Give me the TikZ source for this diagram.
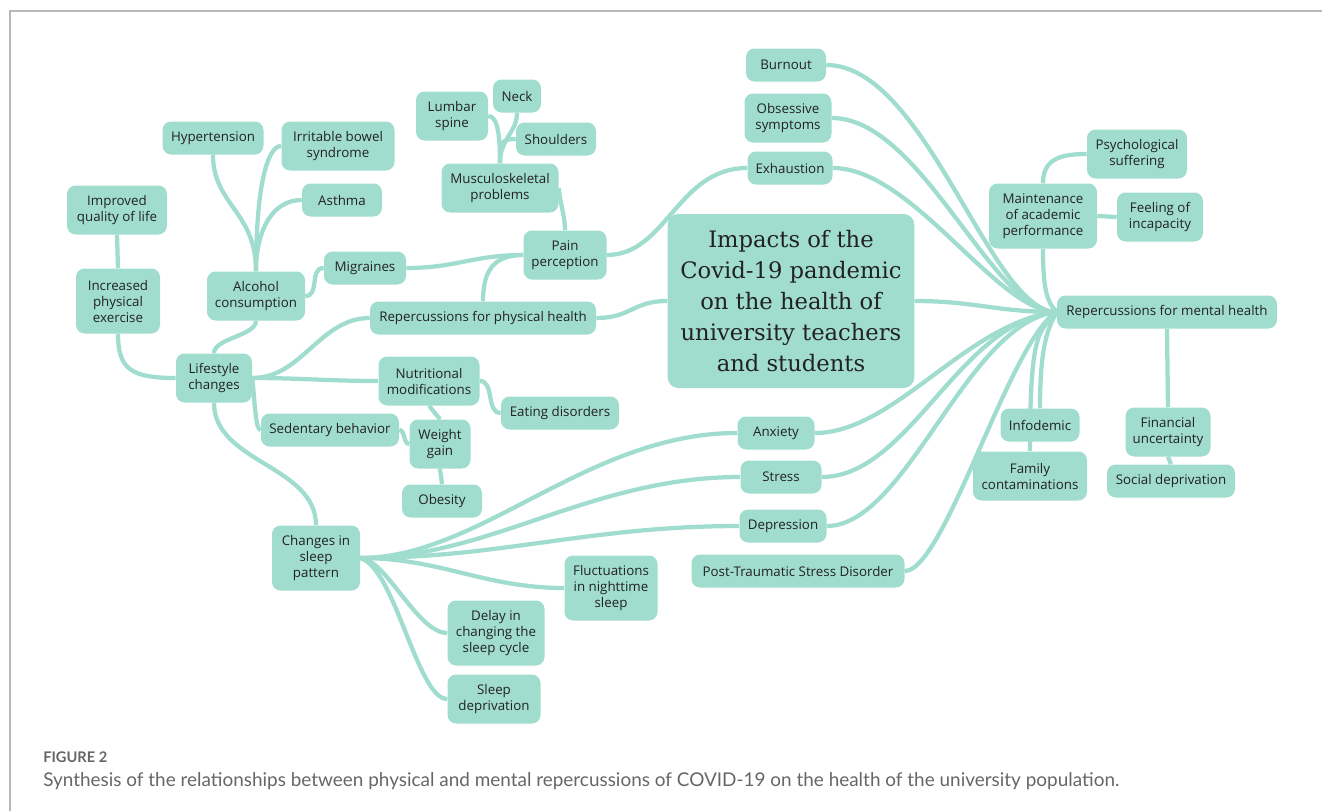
\documentclass[tikz,border=0pt]{standalone}
\usepackage{fontspec}
\setmainfont{Open Sans}
\newfontfamily\titlefont{DejaVu Serif}
\newfontfamily\capfont{Lato}
\usetikzlibrary{backgrounds}
\definecolor{mint}{HTML}{A0DDCF}
\definecolor{ink}{HTML}{222222}
\definecolor{framegray}{HTML}{B8B8B8}
\definecolor{capgray}{HTML}{666666}

\begin{document}
\begin{tikzpicture}[x=0.75pt,y=-0.75pt,line cap=round]
    \tikzstyle{topic}=[rounded corners=6.5pt,fill=mint,text=ink,align=center,inner xsep=5pt,inner ysep=3pt,minimum height=24.75pt,font=\fontsize{10}{12}\selectfont]
    \tikzstyle{two}=[topic,minimum height=36.75pt]
    \tikzstyle{three}=[topic,minimum height=48.75pt]
    \tikzstyle{core}=[topic,rounded corners=8pt,minimum width=185pt,minimum height=130.5pt,font=\titlefont\fontsize{17}{23.3}\selectfont]
    \tikzstyle{branch}=[draw=mint,line width=3.2pt]
    \useasboundingbox (0,0) rectangle (1322,811);

    % frame
    \draw[framegray,line width=1.1pt] (10,811) -- (10,11) -- (1322,11);

    \node[core] (core) at (791,301) {Impacts of the\\Covid-19 pandemic\\on the health of\\university teachers\\and students};

    % physical side
    \node[topic,minimum width=169.5pt] (physical) at (483,318) {Repercussions for physical health};
    \node[two,minimum width=62.25pt] (pain) at (565,255) {Pain\\perception};
    \node[two,minimum width=87.75pt] (musc) at (500,188) {Musculoskeletal\\problems};
    \node[two,minimum width=54pt] (lumbar) at (452,116) {Lumbar\\spine};
    \node[topic,minimum width=36pt] (neck) at (517,96) {Neck};
    \node[topic,minimum width=60pt] (shoulders) at (556,139) {Shoulders};
    \node[topic,minimum width=61.5pt] (migraines) at (365,268) {Migraines};
    \node[two,minimum width=73.5pt] (alcohol) at (256,296) {Alcohol\\consumption};
    \node[topic,minimum width=75.75pt] (hyper) at (213,138) {Hypertension};
    \node[two,minimum width=84.75pt] (ibs) at (338,146) {Irritable bowel\\syndrome};
    \node[topic,minimum width=60pt] (asthma) at (342,200) {Asthma};
    \node[two,minimum width=57pt] (lifestyle) at (214,378) {Lifestyle\\changes};
    \node[three,minimum width=63pt] (exercise) at (118,301) {Increased\\physical\\exercise};
    \node[two,minimum width=75pt] (improved) at (117,210) {Improved\\quality of life};
    \node[two,minimum width=75.75pt] (nutrition) at (429,381) {Nutritional\\modifications};
    \node[topic,minimum width=88.5pt] (eating) at (560,413) {Eating disorders};
    \node[topic,minimum width=103.5pt] (sedentary) at (330,430) {Sedentary behavior};
    \node[two,minimum width=45.75pt] (weight) at (440,444) {Weight\\gain};
    \node[topic,minimum width=60pt] (obesity) at (442,501) {Obesity};
    \node[three,minimum width=66pt] (sleep) at (316,558) {Changes in\\sleep\\pattern};
    \node[three,minimum width=69.75pt] (fluct) at (611,588) {Fluctuations\\in nighttime\\sleep};
    \node[three,minimum width=72.75pt] (delay) at (496,633) {Delay in\\changing the\\sleep cycle};
    \node[two,minimum width=69.75pt] (deprivation) at (494,699) {Sleep\\deprivation};

    % mental side
    \node[topic,minimum width=165pt] (mental) at (1167,312) {Repercussions for mental health};
    \node[topic,minimum width=60pt] (burnout) at (786,65) {Burnout};
    \node[two,minimum width=65.25pt] (obsessive) at (788,118) {Obsessive\\symptoms};
    \node[topic,minimum width=63.75pt] (exhaustion) at (790,168) {Exhaustion};
    \node[three,minimum width=81pt] (maint) at (1043,216) {Maintenance\\of academic\\performance};
    \node[two,minimum width=75pt] (psych) at (1137,154) {Psychological\\suffering};
    \node[two,minimum width=64.5pt] (feeling) at (1160,217) {Feeling of\\incapacity};
    \node[topic,minimum width=57.75pt] (anxiety) at (776,433) {Anxiety};
    \node[topic,minimum width=60.75pt] (stress) at (781,477) {Stress};
    \node[topic,minimum width=65.25pt] (depression) at (783,526) {Depression};
    \node[topic,minimum width=159.75pt] (ptsd) at (798,571) {Post-Traumatic Stress Disorder};
    \node[topic,minimum width=59.25pt] (info) at (1040,425) {Infodemic};
    \node[two,minimum width=85.5pt] (family) at (1030,476) {Family\\contaminations};
    \node[two,minimum width=63.75pt] (finance) at (1168,432) {Financial\\uncertainty};
    \node[topic,minimum width=96pt] (social) at (1171,481) {Social deprivation};

    \begin{scope}[on background layer]
        \draw[branch] (core.west) .. controls +(-35,0) and +(35,0) .. (physical.east);
        \draw[branch] (core.east) .. controls +(60,0) and +(-60,0) .. (mental.west);
        \draw[branch] (pain.east) .. controls +(60,0) and +(-70,0) .. (exhaustion.west);

        % branches into mental health
        \foreach \n/\a/\b/\c in {burnout/100/-67/0, obsessive/90/-65/0, exhaustion/80/-60/0,
                                 anxiety/80/-90/10, stress/88/-97/8, depression/80/-90/10, ptsd/40/-47/28}
            \draw[branch] (\n.east) .. controls +(\a,0) and +(\b,\c) .. (mental.west);
        \draw[branch] (mental.west) .. controls +(-12,20) and +(0,-50) .. (info.north);
        \draw[branch] (mental.west) .. controls +(-18,20) and +(0,-120) .. (family.north);
        \draw[branch] (maint.south) .. controls +(0,40) and +(-10,-10) .. (mental.west);
        \draw[branch] (maint.north) .. controls +(0,-25) and +(-25,0) .. (psych.west);
        \draw[branch] (maint.east) -- (feeling.west);
        \draw[branch] (mental.south) -- (finance.north);
        \draw[branch] (finance.south) -- (social.north);

        % physical health branches
        \draw[branch] (physical.west) .. controls +(-50,0) and +(50,0) .. (lifestyle.east);
        \draw[branch] (physical.north) .. controls +(0,-30) and +(-30,0) .. (pain.west);
        \draw[branch] (migraines.east) .. controls +(50,0) and +(-50,0) .. (pain.west);
        \draw[branch] (musc.east) .. controls +(2,20) and +(0,-15) .. (pain.north);
        \draw[branch] (musc.north) .. controls +(0,-25) and +(10,0) .. (lumbar.east);
        \draw[branch] (musc.north) .. controls +(0,-25) and +(0,20) .. (neck.south);
        \draw[branch] (musc.north) .. controls +(0,-20) and +(-15,0) .. (shoulders.west);
        \draw[branch] (alcohol.north) .. controls +(0,-60) and +(0,50) .. (hyper.south);
        \draw[branch] (alcohol.north) .. controls +(0,-80) and +(-15,0) .. (ibs.west);
        \draw[branch] (alcohol.north) .. controls +(0,-40) and +(-30,0) .. (asthma.west);
        \draw[branch] (alcohol.east) .. controls +(15,0) and +(-15,0) .. (migraines.west);
        \draw[branch] (alcohol.south) .. controls +(0,15) and +(0,-15) .. (lifestyle.north);
        \draw[branch] (lifestyle.west) .. controls +(-45,0) and +(0,35) .. (exercise.south);
        \draw[branch] (exercise.north) -- (improved.south);
        \draw[branch] (lifestyle.east) .. controls +(50,0) and +(-50,0) .. (nutrition.west);
        \draw[branch] (lifestyle.east) .. controls +(3,30) and +(-5,0) .. (sedentary.west);
        \draw[branch] (lifestyle.south) .. controls +(0,60) and +(0,-60) .. (sleep.north);
        \draw[branch] (nutrition.east) .. controls +(15,0) and +(-15,0) .. (eating.west);
        \draw[branch] (nutrition.south) -- (weight.north);
        \draw[branch] (sedentary.east) .. controls +(6,0) and +(-6,0) .. (weight.west);
        \draw[branch] (weight.south) -- (obesity.north);

        % sleep branches
        \draw[branch] (sleep.east) .. controls +(120,0) and +(-150,0) .. (anxiety.west);
        \draw[branch] (sleep.east) .. controls +(130,0) and +(-150,0) .. (stress.west);
        \draw[branch] (sleep.east) .. controls +(140,0) and +(-150,0) .. (depression.west);
        \draw[branch] (sleep.east) .. controls +(80,0) and +(-80,0) .. (fluct.west);
        \draw[branch] (sleep.east) .. controls +(25,0) and +(-30,0) .. (delay.west);
        \draw[branch] (sleep.east) .. controls +(35,10) and +(-30,0) .. (deprivation.west);
    \end{scope}

    % caption
    \node[anchor=base west,inner sep=0pt,text=capgray,font=\capfont\bfseries\fontsize{11}{13}\selectfont] (fignum) at (43,762) {FIGURE 2};
    \node[anchor=base west,inner sep=0pt,text=capgray,font=\capfont\fontsize{14.2}{17}\selectfont] (caption) at (43,786)
        {Synthesis of the relationships between physical and mental repercussions of COVID-19 on the health of the university population.};
\end{tikzpicture}
\end{document}
